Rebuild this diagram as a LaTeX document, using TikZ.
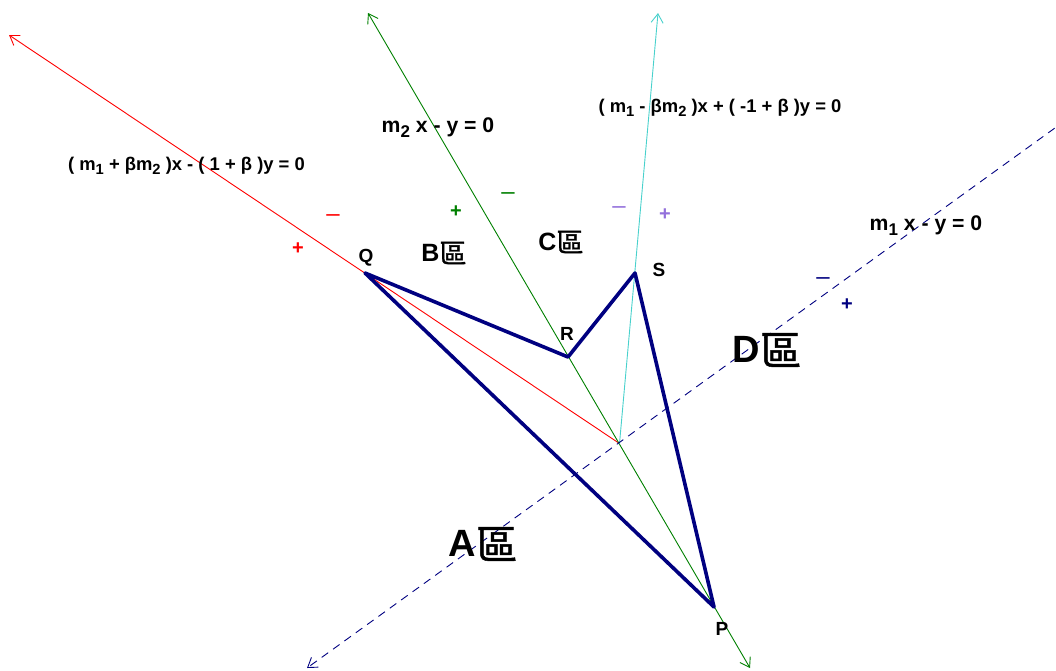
\documentclass[tikz,border=0pt]{standalone}
\usepackage{fontspec}
\setmainfont{Liberation Sans}
\newfontfamily\cjk[Scale=1.08, FakeBold=1.2]{Noto Sans CJK TC}
\usetikzlibrary{arrows.meta}
\definecolor{turq}{RGB}{72,209,204}
\definecolor{mpurple}{RGB}{147,112,219}
\definecolor{navyb}{RGB}{0,0,128}
\definecolor{dgreen}{RGB}{0,128,0}
\definecolor{pureRed}{RGB}{255,0,0}
\newcommand\lo[1]{\raisebox{-0.45ex}{\scalebox{0.8}{#1}}}
\newcommand\qu{\raisebox{-0.08em}{\cjk\mdseries 區}}
\begin{document}
\begin{tikzpicture}[x=1pt,y=-1pt,
  >={Straight Barb[length=9pt,width=12pt]},
  thinline/.style={line width=0.9pt},
  eqlabel/.style={font=\bfseries\fontsize{18.4}{22}\selectfont, inner sep=0pt},
  eqbig/.style={font=\bfseries\fontsize{21.2}{25}\selectfont, inner sep=0pt},
  ptlabel/.style={font=\bfseries\fontsize{19}{22}\selectfont, inner sep=0pt},
  region/.style={font=\bfseries\fontsize{25}{30}\selectfont, inner sep=0pt},
  bigregion/.style={font=\bfseries\fontsize{38}{44}\selectfont, inner sep=0pt},
  plussign/.style={font=\bfseries\fontsize{20}{24}\selectfont, inner sep=0pt},
  minussign/.style={font=\fontsize{24}{26}\selectfont, inner sep=0pt},
  polyedge/.style={navyb, line width=3.6pt, line join=round, line cap=round}]
\useasboundingbox (0,0) rectangle (1056,670);
\clip (0,0) rectangle (1056,670);
% points
\coordinate (O) at (619.5,443.5);
\coordinate (P) at (714,607);
\coordinate (Q) at (365,273);
\coordinate (R) at (568,357);
\coordinate (S) at (635,273);
\coordinate (redend) at (9,35);
\coordinate (greentop) at (368,13);
\coordinate (greenbot) at (750,668);
\coordinate (cyantop) at (658,13);
\coordinate (dashbl) at (307,668);
\coordinate (dashtr) at (1066,120);
% lines
\draw[thinline, pureRed, ->] (O) -- (redend);
\draw[thinline, dgreen, <->] (greentop) -- (greenbot);
\draw[thinline, turq, ->] (O) -- (cyantop);
\draw[thinline, navyb, dash pattern=on 8pt off 6pt, ->] (dashtr) -- (dashbl);
% polygon
\draw[polyedge] (P) -- (Q) -- (R) -- (S) -- cycle;
% equation labels
\node[eqlabel] (eq1) at (186.5,166) {( m\lo{1} + βm\lo{2} )x - ( 1 + β )y = 0};
\node[eqbig] (eq2) at (438,128) {m\lo{2} x - y = 0};
\node[eqlabel] (eq3) at (720,108) {( m\lo{1} - βm\lo{2} )x + ( -1 + β )y = 0};
\node[eqbig] (eq4) at (926,226) {m\lo{1} x - y = 0};
% point labels
\node[ptlabel] (lQ) at (366,258) {Q};
\node[ptlabel] (lR) at (567,334) {R};
\node[ptlabel] (lS) at (659,270) {S};
\node[ptlabel] (lP) at (722,629) {P};
% region labels
\node[region] (rB) at (444,253) {B\qu};
\node[region] (rC) at (561,242) {C\qu};
\node[bigregion] (rD) at (767,350) {D\qu};
\node[bigregion] (rA) at (483,544) {A\qu};
% signs
\node[minussign, pureRed] (m1) at (333,218) {–};
\node[plussign, pureRed] (p1) at (298,249) {+};
\node[plussign, dgreen] (p2) at (456,212) {+};
\node[minussign, dgreen] (m2) at (508,196) {–};
\node[minussign, mpurple] (m3) at (619,210) {–};
\node[plussign, mpurple] (p3) at (665,215) {+};
\node[minussign, navyb] (m4) at (823,281) {–};
\node[plussign, navyb] (p4) at (847,305) {+};
\end{tikzpicture}
\end{document}
